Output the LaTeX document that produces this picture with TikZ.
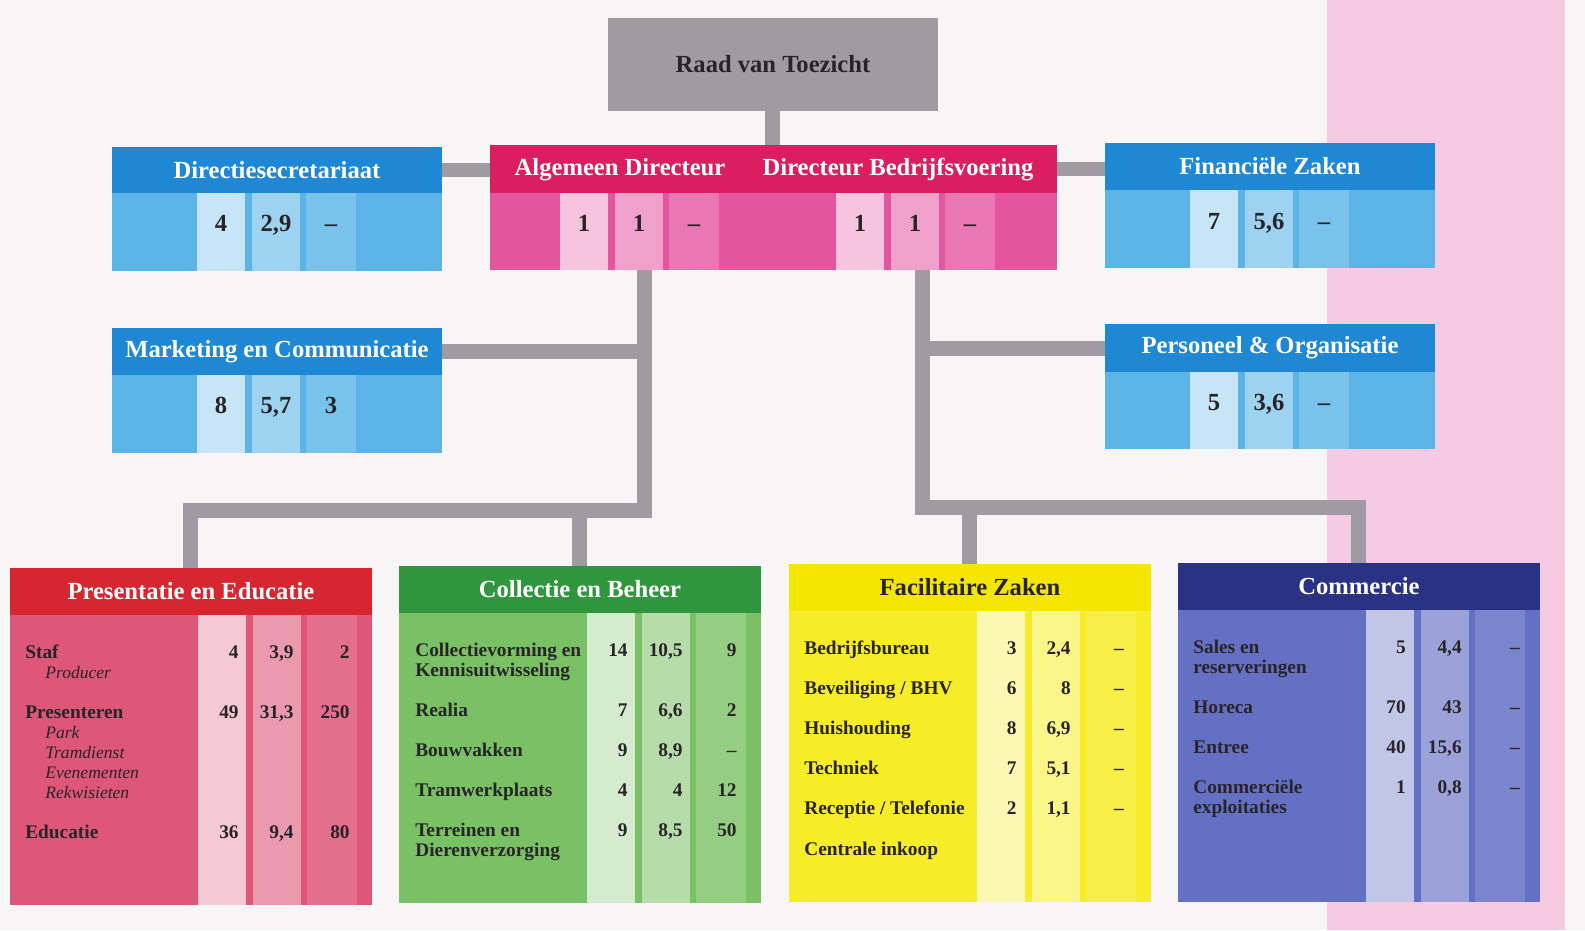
\documentclass[tikz,border=0pt]{standalone}
\usepackage{fontspec}
\usetikzlibrary{backgrounds}
\setmainfont{Liberation Serif}
\definecolor{paper}{RGB}{248,245,247}
\definecolor{bandpink}{RGB}{244,203,226}
\definecolor{conngray}{RGB}{158,156,162}
\definecolor{ink}{RGB}{40,36,40}
\definecolor{blueHead}{RGB}{30,136,212}
\definecolor{blueBody}{RGB}{92,180,230}
\definecolor{dirHead}{RGB}{218,30,95}
\definecolor{dirBody}{RGB}{228,85,160}
\definecolor{presHead}{RGB}{214,38,48}
\definecolor{presBody}{RGB}{222,86,120}
\definecolor{collHead}{RGB}{48,150,62}
\definecolor{collBody}{RGB}{122,192,100}
\definecolor{facHead}{RGB}{244,230,0}
\definecolor{facBody}{RGB}{246,236,40}
\definecolor{commHead}{RGB}{42,50,132}
\definecolor{commBody}{RGB}{100,112,196}
\colorlet{blueA}{blueBody!35!white}\colorlet{blueB}{blueBody!60!white}\colorlet{blueC}{blueBody!82!white}
\colorlet{dirA}{dirBody!35!white}\colorlet{dirB}{dirBody!55!white}\colorlet{dirC}{dirBody!80!white}
\colorlet{presA}{presBody!32!white}\colorlet{presB}{presBody!60!white}\colorlet{presC}{presBody!85!white}
\colorlet{collA}{collBody!32!white}\colorlet{collB}{collBody!55!white}\colorlet{collC}{collBody!80!white}
\colorlet{facA}{facBody!35!white}\colorlet{facB}{facBody!55!white}\colorlet{facC}{facBody!85!white}
\colorlet{commA}{commBody!40!white}\colorlet{commB}{commBody!65!white}\colorlet{commC}{commBody!85!white}
% three figure columns: colour family, left edge of first column, top, bottom
\newcommand{\stripes}[4]{%
  \fill[#1A] (#2,#3) rectangle (#2+48,#4);
  \fill[#1B] (#2+55,#3) rectangle (#2+103,#4);
  \fill[#1C] (#2+109,#3) rectangle (#2+159,#4);}
\tikzset{
  conn/.style={draw=conngray, line width=3mm},
  unit/.style={anchor=north west, inner sep=0pt, outer sep=0pt, minimum width=#1},
  head/.style={font=\fontsize{14}{16}\selectfont\bfseries, text=white},
  lbl/.style={anchor=base west, inner sep=0pt, font=\fontsize{11}{12}\selectfont\bfseries, text=ink},
  sublbl/.style={anchor=base west, inner sep=0pt, font=\fontsize{10}{12}\selectfont\itshape, text=ink},
  bigval/.style={anchor=base, inner sep=0pt, font=\fontsize{14}{16}\selectfont\bfseries, text=ink},
  val/.style={anchor=base east, inner sep=0pt, font=\fontsize{11}{12}\selectfont\bfseries, text=ink}
}
\begin{document}
\begin{tikzpicture}[x=0.02cm, y=-0.02cm]
\useasboundingbox (0,0) rectangle (1585,930);

% board and directors
\node[unit=66mm, minimum height=18.6mm, fill=conngray, font=\fontsize{14}{16}\selectfont\bfseries, text=ink] (raad) at (608,18) {Raad van Toezicht};
\node[unit=113.4mm, minimum height=9.6mm, fill=dirHead] (dirhead) at (490,145) {};
\node[unit=113.4mm, minimum height=15.4mm, fill=dirBody] (dir) at (dirhead.south west) {};
\node[head] (alg) at (620,170) {Algemeen Directeur};
\node[head] (bed) at (898,170) {Directeur Bedrijfsvoering};
\stripes{dir}{560}{193}{270}
\stripes{dir}{836}{193}{270}
\foreach \v [count=\i] in {1,1,–}{
  \node[bigval] (alg-v\i) at (584+55*\i-55,231) {\v};
  \node[bigval] (bed-v\i) at (860+55*\i-55,231) {\v};
}

% staff units
\node[unit=66mm, minimum height=9.2mm, fill=blueHead, head] (dirsechead) at (112,147) {Directiesecretariaat};
\node[unit=66mm, minimum height=15.6mm, fill=blueBody] (dirsec) at (dirsechead.south west) {};
\stripes{blue}{197}{193}{271}
\foreach \v [count=\i] in {4,{2,9},–}
  \node[bigval] (dirsec-v\i) at (221+55*\i-55,231) {\v};

\node[unit=66mm, minimum height=9.4mm, fill=blueHead, head] (markhead) at (112,328) {Marketing en Communicatie};
\node[unit=66mm, minimum height=15.6mm, fill=blueBody] (mark) at (markhead.south west) {};
\stripes{blue}{197}{375}{453}
\foreach \v [count=\i] in {8,{5,7},3}
  \node[bigval] (mark-v\i) at (221+55*\i-55,413) {\v};

\node[unit=66mm, minimum height=9.4mm, fill=blueHead, head] (finhead) at (1105,143) {Financiële Zaken};
\node[unit=66mm, minimum height=15.6mm, fill=blueBody] (fin) at (finhead.south west) {};
\stripes{blue}{1190}{190}{268}
\foreach \v [count=\i] in {7,{5,6},–}
  \node[bigval] (fin-v\i) at (1214+55*\i-55,229) {\v};

\node[unit=66mm, minimum height=9.6mm, fill=blueHead, head] (pershead) at (1105,324) {Personeel \& Organisatie};
\node[unit=66mm, minimum height=15.4mm, fill=blueBody] (pers) at (pershead.south west) {};
\stripes{blue}{1190}{372}{449}
\foreach \v [count=\i] in {5,{3,6},–}
  \node[bigval] (pers-v\i) at (1214+55*\i-55,410) {\v};

% departments
\node[unit=72.4mm, minimum height=9.4mm, fill=presHead, head] (preshead) at (10,568) {Presentatie en Educatie};
\node[unit=72.4mm, minimum height=58mm, fill=presBody] (pres) at (preshead.south west) {};
\stripes{pres}{198}{615}{905}
\foreach \y/\t/\a/\b/\c [count=\i] in {652/Staf/4/{3,9}/2, 712/Presenteren/49/{31,3}/250, 832/Educatie/36/{9,4}/80}{
  \node[lbl] (pres-r\i) at (25,\y+6) {\t};
  \node[val] (pres-a\i) at (239,\y+6) {\a};
  \node[val] (pres-b\i) at (294,\y+6) {\b};
  \node[val] (pres-c\i) at (350,\y+6) {\c};
}
\foreach \y/\t [count=\i] in {672/Producer, 732/Park, 752/Tramdienst, 772/Evenementen, 792/Rekwisieten}
  \node[sublbl] (pres-s\i) at (45,\y+6) {\t};

\node[unit=72.4mm, minimum height=9.4mm, fill=collHead, head] (collhead) at (399,566) {Collectie en Beheer};
\node[unit=72.4mm, minimum height=58mm, fill=collBody] (coll) at (collhead.south west) {};
\stripes{coll}{587}{613}{903}
\foreach \y/\t/\a/\b/\c [count=\i] in {650/Collectievorming en/14/{10,5}/9, 710/Realia/7/{6,6}/2, 750/Bouwvakken/9/{8,9}/–, 790/Tramwerkplaats/4/4/12, 830/Terreinen en/9/{8,5}/50}{
  \node[lbl] (coll-r\i) at (415,\y+6) {\t};
  \node[val] (coll-a\i) at (628,\y+6) {\a};
  \node[val] (coll-b\i) at (683,\y+6) {\b};
  \node[val] (coll-c\i) at (737,\y+6) {\c};
}
\node[lbl] (coll-s1) at (415,676) {Kennisuitwisseling};
\node[lbl] (coll-s2) at (415,856) {Dierenverzorging};

\node[unit=72.4mm, minimum height=9.4mm, fill=facHead, head, text=ink] (fachead) at (789,564) {Facilitaire Zaken};
\node[unit=72.4mm, minimum height=58.2mm, fill=facBody] (fac) at (fachead.south west) {};
\stripes{fac}{977}{611}{902}
\foreach \y/\t/\a/\b/\c [count=\i] in {648/Bedrijfsbureau/3/{2,4}/–, 688/{Beveiliging / BHV}/6/8/–, 728/Huishouding/8/{6,9}/–, 768/Techniek/7/{5,1}/–, 808/{Receptie / Telefonie}/2/{1,1}/–}{
  \node[lbl] (fac-r\i) at (804,\y+6) {\t};
  \node[val] (fac-a\i) at (1017,\y+6) {\a};
  \node[val] (fac-b\i) at (1071,\y+6) {\b};
  \node[val] (fac-c\i) at (1124,\y+6) {\c};
}
\node[lbl] (fac-r6) at (804,855) {Centrale inkoop};

\node[unit=72.4mm, minimum height=9.4mm, fill=commHead, head] (commhead) at (1178,563) {Commercie};
\node[unit=72.4mm, minimum height=58.4mm, fill=commBody] (comm) at (commhead.south west) {};
\stripes{comm}{1366}{610}{902}
\foreach \y/\t/\a/\b/\c [count=\i] in {647/Sales en/5/{4,4}/–, 707/Horeca/70/43/–, 747/Entree/40/{15,6}/–, 787/Commerciële/1/{0,8}/–}{
  \node[lbl] (comm-r\i) at (1193,\y+6) {\t};
  \node[val] (comm-a\i) at (1406,\y+6) {\a};
  \node[val] (comm-b\i) at (1462,\y+6) {\b};
  \node[val] (comm-c\i) at (1520,\y+6) {\c};
}
\node[lbl] (comm-s1) at (1193,673) {reserveringen};
\node[lbl] (comm-s2) at (1193,813) {exploitaties};

% lines of authority, under the boxes
\coordinate (algstem) at (644,510);
\coordinate (bedstem) at (922,507);
\begin{scope}[on background layer]
\fill[paper] (0,0) rectangle (1585,930);
\fill[bandpink] (1327,0) rectangle (1565,930);
\draw[conn] (raad.south) -- (raad.south |- dirhead.north);
\draw[conn] (dirsechead.east) -- (dirsechead.east -| dirhead.west);
\draw[conn] (dirhead.east) -- (dirhead.east -| finhead.west);
\draw[conn] (dir.south -| algstem) -- (algstem) -| (preshead.north);
\draw[conn] (algstem -| collhead.north) -- (collhead.north);
\draw[conn] (markhead.east) -- (markhead.east -| algstem);
\draw[conn] (dir.south -| bedstem) -- (bedstem) -| (commhead.north);
\draw[conn] (bedstem -| fachead.north) -- (fachead.north);
\draw[conn] (pershead.west) -- (pershead.west -| bedstem);
\end{scope}
\end{tikzpicture}
\end{document}
